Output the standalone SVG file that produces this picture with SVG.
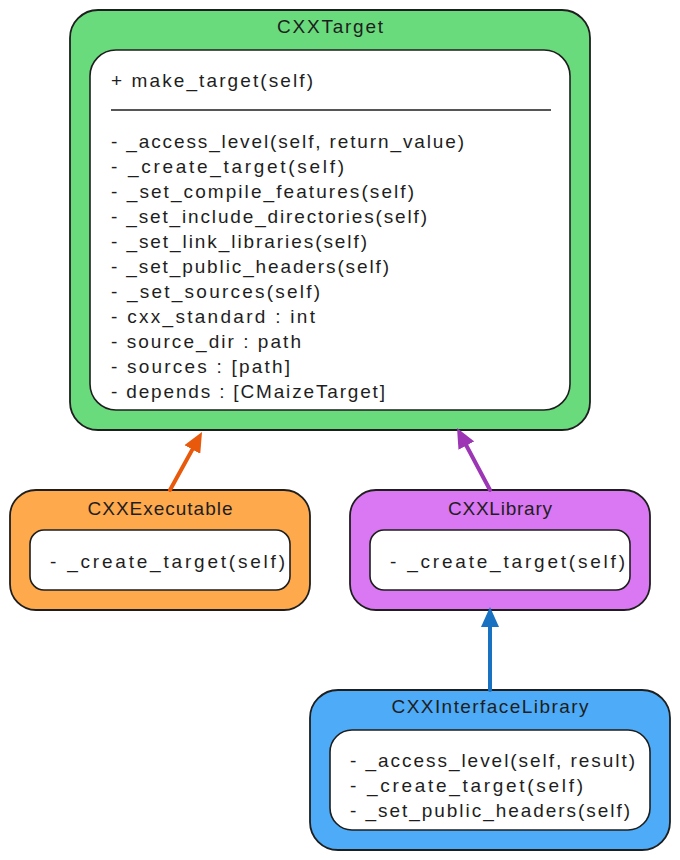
<svg xmlns="http://www.w3.org/2000/svg" width="680" height="860" viewBox="0 0 680 860">
<defs>
<style>
.outer{stroke:#1e1e1e;stroke-width:1.8}
.inner{fill:#ffffff;stroke:#1e1e1e;stroke-width:1.6}
.t{font-family:"Liberation Sans","Noto Sans",Arial,sans-serif;font-size:19px;fill:#1e1e1e}
.title{text-anchor:middle}
.sep{stroke:#1e1e1e;stroke-width:1.5}
.arrow{fill:none;stroke-width:4;stroke-linecap:round}
</style>
<marker id="hOrange" viewBox="0 0 20 18" refX="9" refY="9" markerWidth="20" markerHeight="18" markerUnits="userSpaceOnUse" orient="auto"><path d="M0,0 L20,9 L0,18 Z" fill="#e8590c"/></marker>
<marker id="hPurple" viewBox="0 0 20 18" refX="9" refY="9" markerWidth="20" markerHeight="18" markerUnits="userSpaceOnUse" orient="auto"><path d="M0,0 L20,9 L0,18 Z" fill="#9c36b5"/></marker>
<marker id="hBlue" viewBox="0 0 20 18" refX="9" refY="9" markerWidth="20" markerHeight="18" markerUnits="userSpaceOnUse" orient="auto"><path d="M0,0 L20,9 L0,18 Z" fill="#1971c2"/></marker>
</defs>
<rect width="680" height="860" fill="#ffffff"/>

<g id="cxxtarget">
<rect class="outer" x="70" y="10" width="520" height="420" rx="28" fill="#69db7c"/>
<rect class="inner" x="90" y="50" width="480" height="360" rx="26"/>
<text class="t title" x="330" y="33" textLength="106">CXXTarget</text>
<text class="t" x="111" y="87" textLength="202">+ make_target(self)</text>
<line class="sep" x1="111" y1="110" x2="551" y2="110"/>
<text class="t" x="111" y="148" textLength="353">- _access_level(self, return_value)</text>
<text class="t" x="111" y="173" textLength="233">- _create_target(self)</text>
<text class="t" x="111" y="198" textLength="303">- _set_compile_features(self)</text>
<text class="t" x="111" y="223" textLength="316">- _set_include_directories(self)</text>
<text class="t" x="111" y="248" textLength="256">- _set_link_libraries(self)</text>
<text class="t" x="111" y="273" textLength="278">- _set_public_headers(self)</text>
<text class="t" x="111" y="298" textLength="209">- _set_sources(self)</text>
<text class="t" x="111" y="323" textLength="204">- cxx_standard : int</text>
<text class="t" x="111" y="348" textLength="190">- source_dir : path</text>
<text class="t" x="111" y="373" textLength="179">- sources : [path]</text>
<text class="t" x="111" y="398" textLength="274">- depends : [CMaizeTarget]</text>
</g>

<g id="cxxexecutable">
<rect class="outer" x="10" y="490" width="300" height="120" rx="26" fill="#ffa94d"/>
<rect class="inner" x="30" y="530" width="260" height="60" rx="14"/>
<text class="t title" x="160" y="515" textLength="145">CXXExecutable</text>
<text class="t" x="50" y="568" textLength="235">- _create_target(self)</text>
</g>

<g id="cxxlibrary">
<rect class="outer" x="350" y="490" width="300" height="120" rx="26" fill="#da77f2"/>
<rect class="inner" x="370" y="530" width="260" height="60" rx="14"/>
<text class="t title" x="500" y="515" textLength="104">CXXLibrary</text>
<text class="t" x="390" y="568" textLength="235">- _create_target(self)</text>
</g>

<g id="cxxinterfacelibrary">
<rect class="outer" x="310" y="690" width="360" height="160" rx="28" fill="#4dabf7"/>
<rect class="inner" x="330" y="730" width="320" height="100" rx="22"/>
<text class="t title" x="490" y="713" textLength="197">CXXInterfaceLibrary</text>
<text class="t" x="350" y="767" textLength="285">- _access_level(self, result)</text>
<text class="t" x="350" y="792" textLength="233">- _create_target(self)</text>
<text class="t" x="350" y="817" textLength="280">- _set_public_headers(self)</text>
</g>

<g id="connectors">
<line class="arrow" x1="170" y1="490" x2="196.7" y2="441.6" stroke="#e8590c" marker-end="url(#hOrange)"/>
<line class="arrow" x1="490" y1="490" x2="462.2" y2="437.7" stroke="#9c36b5" marker-end="url(#hPurple)"/>
<line class="arrow" x1="490" y1="690" x2="490" y2="618" stroke="#1971c2" marker-end="url(#hBlue)"/>
</g>
</svg>
